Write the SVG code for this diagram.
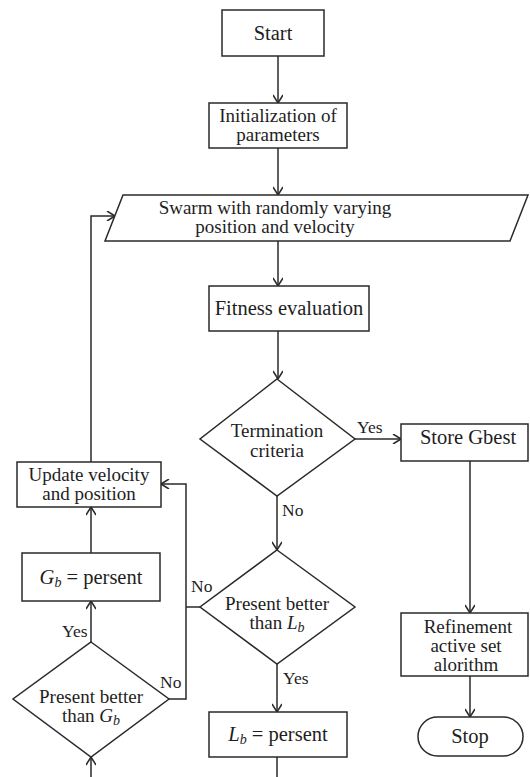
<svg xmlns="http://www.w3.org/2000/svg" width="530" height="777" viewBox="0 0 530 777" font-family="'Liberation Serif', 'Times New Roman', 'DejaVu Serif', serif">
  <style>
    .shape { fill: #ffffff; stroke: #2a2a2a; stroke-width: 1.5; }
    .wire { fill: none; stroke: #2a2a2a; stroke-width: 1.5; }
    .label { font-family: 'Liberation Serif', 'Times New Roman', 'DejaVu Serif', serif; font-size: 19px; fill: #1e1e1e; text-anchor: middle; }
    .big { font-size: 20.5px; }
    .tag { font-family: 'Liberation Serif', 'Times New Roman', 'DejaVu Serif', serif; font-size: 17.5px; fill: #1e1e1e; }
    .math { font-style: italic; }
    .sub { font-style: italic; font-size: 14px; }
  </style>
  <defs>
    <marker id="arrow" viewBox="0 0 10 10" refX="10" refY="5" markerWidth="10" markerHeight="10" markerUnits="userSpaceOnUse" orient="auto">
      <path d="M2,0 L10,5 L2,10" fill="none" stroke="#2a2a2a" stroke-width="1.5"/>
    </marker>
  </defs>
  <rect width="530" height="777" fill="#ffffff"/>

  <!-- connectors -->
  <g id="connectors">
    <line class="wire" x1="278" y1="56" x2="278" y2="103" marker-end="url(#arrow)"/>
    <line class="wire" x1="278" y1="148" x2="278" y2="195" marker-end="url(#arrow)"/>
    <line class="wire" x1="278" y1="241" x2="278" y2="286" marker-end="url(#arrow)"/>
    <line class="wire" x1="278" y1="331" x2="278" y2="379" marker-end="url(#arrow)"/>
    <!-- termination: yes -->
    <line class="wire" x1="355" y1="439" x2="401" y2="439" marker-end="url(#arrow)"/>
    <text class="tag" x="357" y="433">Yes</text>
    <!-- termination: no -->
    <line class="wire" x1="277" y1="496" x2="277" y2="550" marker-end="url(#arrow)"/>
    <text class="tag" x="282" y="516">No</text>
    <!-- store -> refinement -> stop -->
    <line class="wire" x1="470" y1="461" x2="470" y2="613" marker-end="url(#arrow)"/>
    <line class="wire" x1="470" y1="676" x2="470" y2="717" marker-end="url(#arrow)"/>
    <!-- local best: yes -->
    <line class="wire" x1="277" y1="664" x2="277" y2="712" marker-end="url(#arrow)"/>
    <text class="tag" x="283" y="684">Yes</text>
    <line class="wire" x1="277" y1="757" x2="277" y2="777"/>
    <!-- local best: no -->
    <line class="wire" x1="200" y1="607" x2="186" y2="607"/>
    <text class="tag" x="191" y="592">No</text>
    <!-- global best: no -->
    <polyline class="wire" points="169,699 186,699 186,484 161,484" marker-end="url(#arrow)"/>
    <text class="tag" x="160" y="688">No</text>
    <!-- global best: yes -->
    <line class="wire" x1="91" y1="642" x2="91" y2="601" marker-end="url(#arrow)"/>
    <text class="tag" x="62" y="637">Yes</text>
    <line class="wire" x1="91" y1="553" x2="91" y2="507" marker-end="url(#arrow)"/>
    <!-- loop back to swarm -->
    <polyline class="wire" points="91,462 91,216 115,216" marker-end="url(#arrow)"/>
    <!-- incoming from below -->
    <line class="wire" x1="91" y1="777" x2="91" y2="757" marker-end="url(#arrow)"/>
  </g>

  <g id="start">
    <rect class="shape" x="222" y="10" width="102" height="46"/>
    <text class="label big" x="273" y="40">Start</text>
  </g>

  <g id="init">
    <rect class="shape" x="209" y="103" width="138" height="45"/>
    <text class="label" x="278" y="122">Initialization of</text>
    <text class="label" x="278" y="141">parameters</text>
  </g>

  <g id="swarm">
    <polygon class="shape" points="123,195 528,195 510,241 105,241"/>
    <text class="label" x="275" y="214">Swarm with randomly varying</text>
    <text class="label" x="275" y="233">position and velocity</text>
  </g>

  <g id="fitness">
    <rect class="shape" x="209" y="286" width="160" height="45"/>
    <text class="label big" x="289" y="315">Fitness evaluation</text>
  </g>

  <g id="termination">
    <polygon class="shape" points="277,379 355,439 277,496 200,439"/>
    <text class="label" x="277" y="437">Termination</text>
    <text class="label" x="277" y="457">criteria</text>
  </g>

  <g id="store">
    <rect class="shape" x="401" y="424" width="127" height="37"/>
    <text class="label big" x="468" y="444">Store Gbest</text>
  </g>

  <g id="refinement">
    <rect class="shape" x="401" y="613" width="127" height="63"/>
    <text class="label" x="468" y="633">Refinement</text>
    <text class="label" x="466" y="652">active set</text>
    <text class="label" x="466" y="671">alorithm</text>
  </g>

  <g id="stop">
    <rect class="shape" x="418" y="717" width="105" height="39" rx="19.5" ry="19.5"/>
    <text class="label big" x="470" y="743">Stop</text>
  </g>

  <g id="local-check">
    <polygon class="shape" points="277,550 355,607 277,664 200,607"/>
    <text class="label" x="277" y="610">Present better</text>
    <text class="label" x="277" y="629">than <tspan class="math">L</tspan><tspan class="sub" dy="3">b</tspan></text>
  </g>

  <g id="local-update">
    <rect class="shape" x="209" y="712" width="138" height="45"/>
    <text class="label big" x="278" y="741"><tspan class="math">L</tspan><tspan class="sub" dy="3">b</tspan><tspan dy="-3"> = persent</tspan></text>
  </g>

  <g id="global-check">
    <polygon class="shape" points="91,642 169,699 91,757 13,699"/>
    <text class="label" x="91" y="703">Present better</text>
    <text class="label" x="91" y="722">than <tspan class="math">G</tspan><tspan class="sub" dy="3">b</tspan></text>
  </g>

  <g id="global-update">
    <rect class="shape" x="22" y="553" width="138" height="48"/>
    <text class="label big" x="91" y="584"><tspan class="math">G</tspan><tspan class="sub" dy="3">b</tspan><tspan dy="-3"> = persent</tspan></text>
  </g>

  <g id="update">
    <rect class="shape" x="17" y="462" width="144" height="45"/>
    <text class="label" x="89" y="481">Update velocity</text>
    <text class="label" x="89" y="500">and position</text>
  </g>
</svg>
